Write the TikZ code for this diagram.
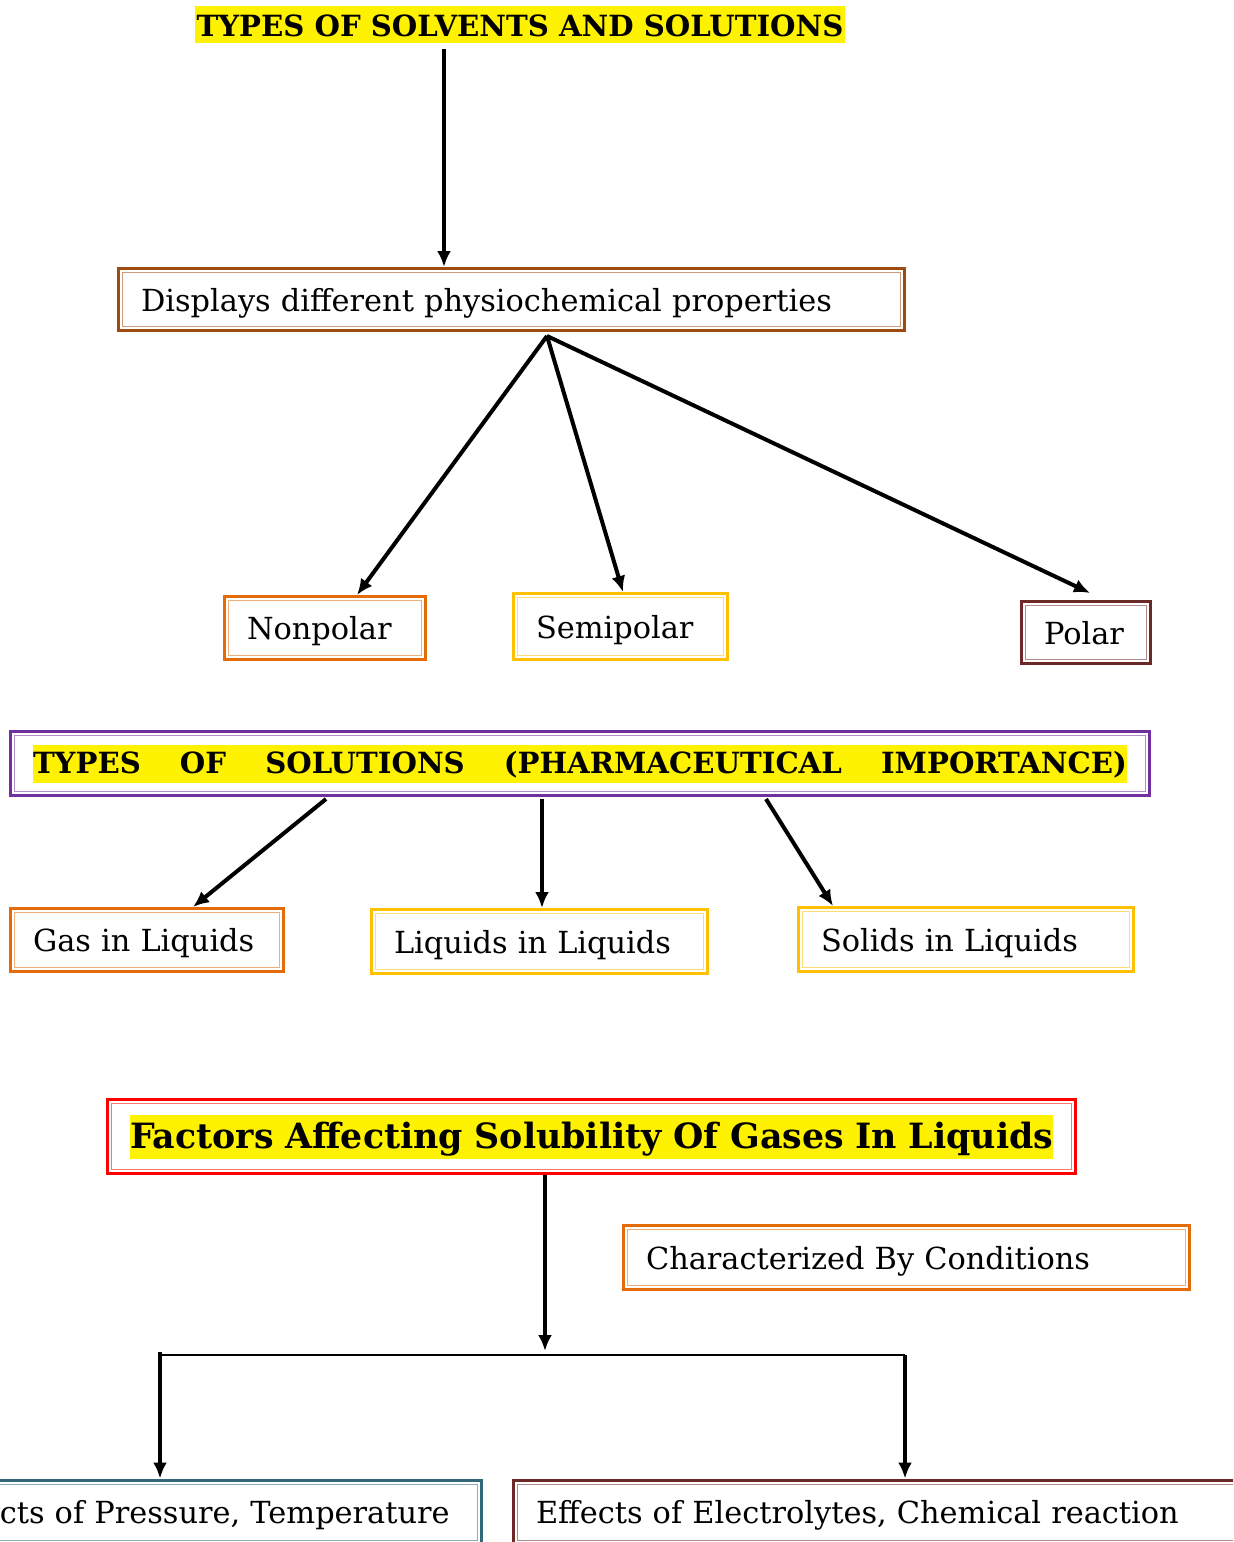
\documentclass[tikz,border=0pt]{standalone}
\usepackage{fontspec}
\setmainfont{DejaVu Serif}
\usepackage{xcolor}
\usetikzlibrary{arrows.meta}

\definecolor{propbrown}{HTML}{9E4B12}
\definecolor{boxorange}{HTML}{E36C09}
\definecolor{boxgold}{HTML}{FFC000}
\definecolor{boxmaroon}{HTML}{6B2A28}
\definecolor{boxpurple}{HTML}{7030A0}
\definecolor{boxteal}{HTML}{31697A}

\newcommand\txtsize{\fontsize{15.2}{18.5}\selectfont}
\newcommand\txtbold{\fontsize{14.6}{18.5}\selectfont\bfseries}
\newcommand\bigbold{\fontsize{17.4}{22}\selectfont\bfseries}
\setlength{\fboxsep}{0pt}

\tikzset{
    box/.style={draw=#1, line width=1.5pt, outer sep=0.75pt, inner xsep=11.25pt,
        align=left, minimum height=31.5pt, font=\txtsize, text height=13pt, text depth=1.5pt,
        append after command={\pgfextra{\draw[#1!55, line width=0.5pt]
            ([shift={(2.75pt,2.75pt)}]\tikzlastnode.south west) rectangle
            ([shift={(-2.75pt,-2.75pt)}]\tikzlastnode.north east);}}},
    arr/.style={-{Latex[length=8pt,width=7pt]}, line width=2pt},
}

\begin{document}
\begin{tikzpicture}[x=0.5pt, y=-0.5pt]
\useasboundingbox (0,0) rectangle (1233,1542);
\clip (0,0) rectangle (1233,1542);

% solvents
\node[fill=yellow, inner xsep=1pt, inner ysep=0pt, text height=15pt, text depth=3.5pt, font=\txtbold] (title) at (520,24.5) {TYPES OF SOLVENTS AND SOLUTIONS};
\node[box=propbrown, text width=370.5pt, minimum height=31pt] (props) at (511.5,299.5) {Displays different physiochemical properties};
\node[box=boxorange, text width=78pt] (nonpolar) at (325,628) {Nonpolar};
\node[box=boxgold, text width=84.5pt, minimum height=33pt] (semipolar) at (620.5,626.5) {Semipolar};
\node[box=boxmaroon, text width=42pt, minimum height=31pt] (polar) at (1086,632.5) {Polar};

\draw[arr] ([xshift=-38pt,yshift=-3pt]title.south) -- ([xshift=-33.75pt]props.north);
\draw[arr] ([xshift=17.75pt,yshift=-2pt]props.south) -- ([xshift=16pt]nonpolar.north);
\draw[arr] ([xshift=17.75pt,yshift=-2pt]props.south) -- ([xshift=1.25pt]semipolar.north);
\draw[arr] ([xshift=17.75pt,yshift=-2pt]props.south) -- ([xshift=2pt,yshift=3.5pt]polar.north);

% solutions
\node[box=boxpurple, text width=547pt, minimum height=32pt, font=\txtbold, text height=14.5pt, text depth=4.5pt] (soltypes) at (580,763.5)
    {\colorbox{yellow}{\makebox[547pt]{\rule[-4.5pt]{0pt}{19pt}TYPES\hfill OF\hfill SOLUTIONS\hfill (PHARMACEUTICAL\hfill IMPORTANCE)}}};
\node[box=boxorange, text width=114pt] (gas) at (147,940) {Gas in Liquids};
\node[box=boxgold, text width=145.5pt, minimum height=32pt] (liquids) at (539.5,941.5) {Liquids in Liquids};
\node[box=boxgold, text width=145pt, minimum height=32pt] (solids) at (966,939.5) {Solids in Liquids};

\draw[arr] ([xshift=-127pt,yshift=-1pt]soltypes.south) -- ([xshift=23pt]gas.north);
\draw[arr] ([xshift=-19pt,yshift=-1pt]soltypes.south) -- ([xshift=1.25pt]liquids.north);
\draw[arr] ([xshift=93pt,yshift=-1pt]soltypes.south) -- ([xshift=-66.5pt]solids.north);

% gases
\node[box=red, text width=461.5pt, minimum height=37pt, font=\bigbold, text height=17pt, text depth=5pt] (factors) at (591.5,1136.5)
    {\colorbox{yellow}{\rule[-5pt]{0pt}{22pt}Factors Affecting Solubility Of Gases In Liquids}};
\node[box=boxorange, text width=260.5pt, minimum height=32pt] (conditions) at (906.5,1257.5) {Characterized By Conditions};
\node[box=boxteal, text width=260.5pt, minimum height=32pt] (press) at (198.5,1512) {Effects of Pressure, Temperature};
\node[box=boxmaroon, text width=346pt, minimum height=32pt] (elec) at (882,1512) {Effects of Electrolytes, Chemical reaction};

\coordinate (busL) at (160,1355);
\coordinate (busR) at (905,1355);
\coordinate (busM) at (545,1351);
\draw[arr] (factors.south -| busM) -- (busM);
\draw[line width=1pt] (busL) -- (busR);
\draw[arr] ([yshift=1.5pt]busL) -- (press.north -| busL);
\draw[arr] (busR) -- (elec.north -| busR);
\end{tikzpicture}
\end{document}
